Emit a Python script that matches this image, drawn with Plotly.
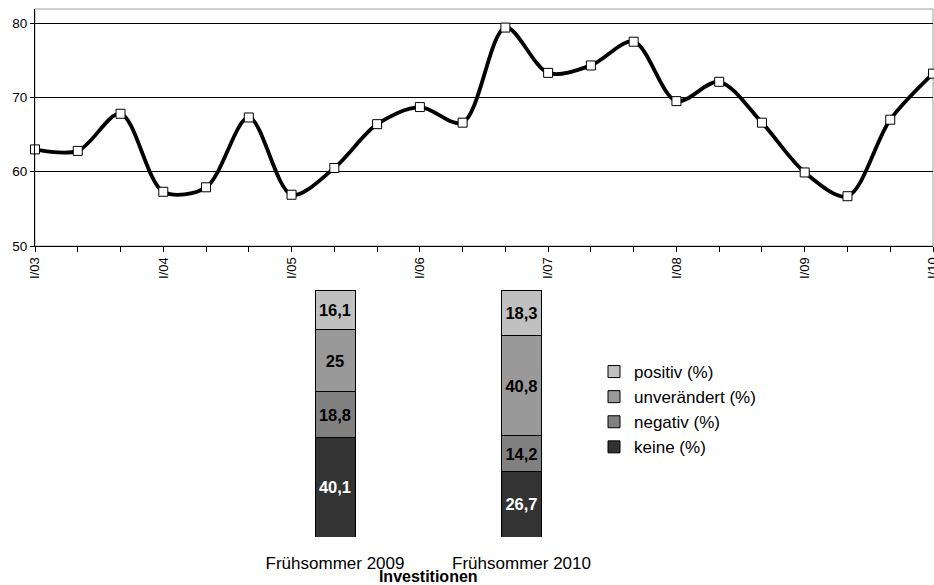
import plotly.graph_objects as go

# --- data ---
line_labels = ["I/03", "", "", "I/04", "", "", "I/05", "", "", "I/06", "", "",
               "I/07", "", "", "I/08", "", "", "I/09", "", "", "I/10"]
line_values = [63.0, 62.8, 67.8, 57.3, 57.9, 67.3, 56.9, 60.5, 66.4, 68.7, 66.6,
               79.4, 73.3, 74.3, 77.5, 69.5, 72.1, 66.6, 59.9, 56.7, 67.0, 73.2]

bar_categories = ["Frühsommer 2009", "Frühsommer 2010"]
keine = [40.1, 26.7]
negativ = [18.8, 14.2]
unveraendert = [25, 40.8]
positiv = [16.1, 18.3]

W, H = 934, 585
FONT = "Liberation Sans, Arial, sans-serif"

def fmt(v):
    return (("%g" % v)).replace(".", ",")

fig = go.Figure()

x_idx = list(range(len(line_values)))
fig.add_trace(go.Scatter(
    x=x_idx, y=line_values, mode="lines+markers",
    line=dict(color="black", width=3.8, shape="spline", smoothing=0.9),
    marker=dict(symbol="square", size=9, color="white",
                line=dict(color="black", width=1)),
    showlegend=False, xaxis="x", yaxis="y", cliponaxis=False,
))

series = [
    ("keine (%)", keine, "#333333", "white", 4),
    ("negativ (%)", negativ, "#808080", "black", 3),
    ("unverändert (%)", unveraendert, "#999999", "black", 2),
    ("positiv (%)", positiv, "#c0c0c0", "black", 1),
]
for name, vals, col, tcol, rank in series:
    fig.add_trace(go.Bar(
        x=[0, 1], y=vals, name=name, legendgroup=name, legendrank=rank,
        width=40 / 186.5,
        marker=dict(color=col, line=dict(color="black", width=1)),
        text=[fmt(v) for v in vals], textposition="inside",
        insidetextanchor="middle",
        textfont=dict(family=FONT, size=16.5, color=tcol, weight="bold"),
        xaxis="x2", yaxis="y2",
    ))

px = lambda p: p / W
py = lambda p: 1 - p / H

fig.update_layout(
    width=W, height=H,
    margin=dict(l=0, r=0, t=0, b=0),
    paper_bgcolor="white", plot_bgcolor="white",
    font=dict(family=FONT, size=12, color="black"),
    barmode="stack",
    uniformtext=dict(mode=False),
    xaxis=dict(
        domain=[px(35), px(933)], range=[0, 21],
        tickmode="array", tickvals=x_idx, ticktext=line_labels,
        tickangle=-90, ticks="outside", ticklen=5, tickcolor="black",
        showline=True, linecolor="black", linewidth=1,
        showgrid=False, zeroline=False, automargin=False,
        ticklabeloverflow="allow",
        tickfont=dict(size=13, family=FONT),
        anchor="y",
    ),
    yaxis=dict(
        domain=[py(246), py(9)], range=[50, 81.9],
        tickvals=[50, 60, 70, 80], ticks="outside", ticklen=4, tickcolor="black",
        showline=True, linecolor="black", linewidth=1,
        showgrid=True, gridcolor="black", gridwidth=1,
        zeroline=False, automargin=False, tickfont=dict(size=13.5, family=FONT),
        anchor="x",
    ),
    xaxis2=dict(
        domain=[px(241.75), px(614.75)], range=[-0.5, 1.5],
        tickmode="array", tickvals=[0, 1], ticktext=bar_categories,
        showline=False, showgrid=False, zeroline=False, ticks="",
        ticklabelstandoff=14, automargin=False,
        tickfont=dict(size=17, family=FONT),
        title=dict(text="<b>Investitionen</b>", font=dict(size=16, family=FONT),
                   standoff=0),
        anchor="y2",
    ),
    yaxis2=dict(
        domain=[py(537), py(290)], range=[0, 100],
        visible=False, anchor="x2", automargin=False,
    ),
    legend=dict(
        x=px(594), y=py(354), xanchor="left", yanchor="top",
        traceorder="grouped", font=dict(size=17, family=FONT),
        itemwidth=30, tracegroupgap=0, bgcolor="rgba(0,0,0,0)",
    ),
    shapes=[dict(type="rect", xref="x domain", yref="y domain",
                 x0=0, x1=1, y0=0, y1=1, line=dict(color="#a0a0a0", width=1),
                 layer="below")],
)

fig.write_html("out.html", config={"displayModeBar": False},
               post_script="document.body.style.margin='0px';document.body.style.overflow='hidden';")
